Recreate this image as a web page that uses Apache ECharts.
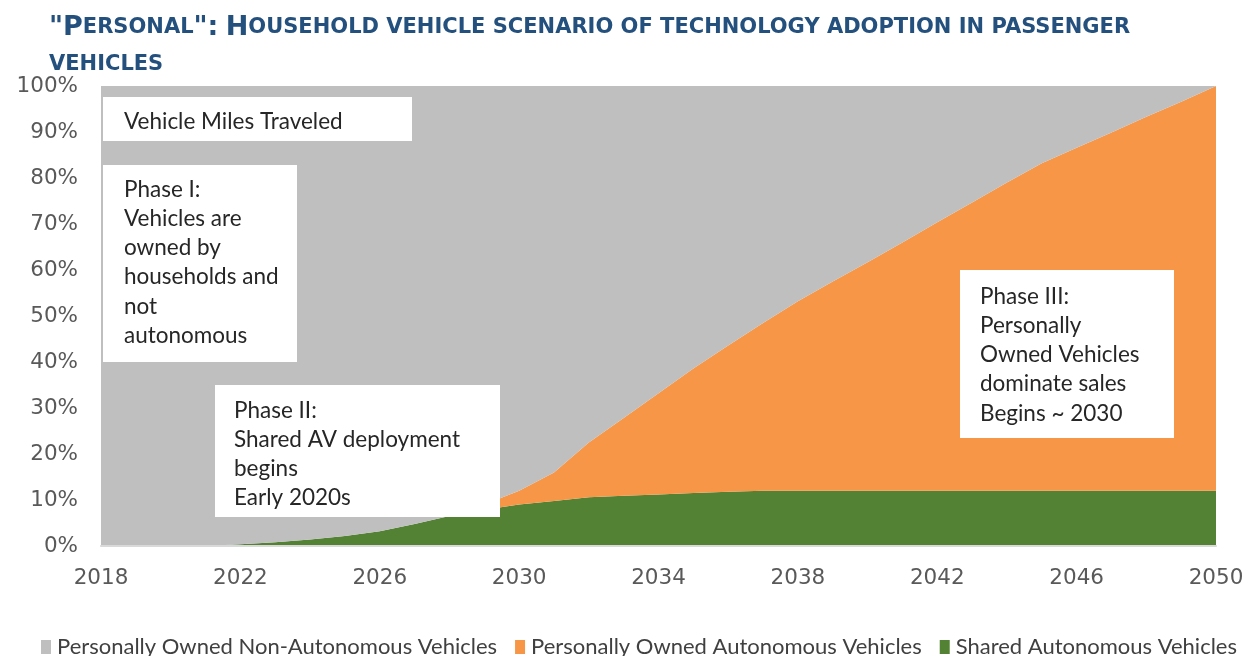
<!DOCTYPE html>
<html>
<head>
<meta charset="utf-8">
<script src="https://cdn.jsdelivr.net/npm/echarts@6/dist/echarts.min.js"></script>
<style>
  html, body { margin: 0; padding: 0; background: #fff; }
  #chart { width: 1256px; height: 656px; }
</style>
</head>
<body>
<div id="chart"></div>
<script>
const years = ['2018', '2019', '2020', '2021', '2022', '2023', '2024', '2025', '2026', '2027', '2028',
  '2029', '2030', '2031', '2032', '2033', '2034', '2035', '2036', '2037', '2038', '2039', '2040',
  '2041', '2042', '2043', '2044', '2045', '2046', '2047', '2048', '2049', '2050']

// shares of vehicle miles traveled, %
const sharedAV = [0, 0, 0, 0, 0.4, 0.8, 1.4, 2.2, 3.2, 4.8, 6.5,
  7.9, 9.0, 9.8, 10.6, 10.9, 11.2, 11.5, 11.8, 12.0, 12.0, 12.0, 12.0,
  12.0, 12.0, 12.0, 12.0, 12.0, 12.0, 12.0, 12.0, 12.0, 12.0]
const ownedAV = [0, 0, 0, 0, 0, 0, 0, 0, 0, 0, 0,
  1.1, 3.0, 6.2, 11.9, 16.9, 22.0, 27.1, 31.8, 36.5, 41.2, 45.5, 49.7,
  54.0, 58.4, 62.7, 67.0, 71.2, 74.6, 77.9, 81.3, 84.6, 88.0]
const ownedNonAV = [100, 100, 100, 100, 99.6, 99.2, 98.6, 97.8, 96.8, 95.2, 93.5,
  91.0, 88.0, 84.0, 77.5, 72.2, 66.8, 61.4, 56.4, 51.5, 46.8, 42.5, 38.3,
  34.0, 29.6, 25.3, 21.0, 16.8, 13.4, 10.1, 6.7, 3.4, 0]

const seriesNames = ['Personally Owned Non-Autonomous Vehicles', 'Personally Owned Autonomous Vehicles', 'Shared Autonomous Vehicles']

const titleText = '"Personal": Household vehicle scenario of technology adoption in passenger\nvehicles'

const notes = [
  { x: 103, y: 97, w: 309, h: 44, tx: 124, ty: 107, lines: ['Vehicle Miles Traveled'] },
  { x: 103, y: 165, w: 194, h: 197, tx: 124, ty: 175, lines: ['Phase I:', 'Vehicles are', 'owned by', 'households and', 'not', 'autonomous'] },
  { x: 215, y: 385, w: 285, h: 132, tx: 234, ty: 396, lines: ['Phase II:', 'Shared AV deployment', 'begins', 'Early 2020s'] },
  { x: 960, y: 270, w: 214, h: 168, tx: 980, ty: 282, lines: ['Phase III:', 'Personally', 'Owned Vehicles', 'dominate sales', 'Begins ~ 2030'] }
]

// fake small caps with rich text
function smallCaps(str) {
  return str.split('\n').map(line => {
    let out = ''
    let cur = null
    let buf = ''
    for (const ch of line) {
      const isSmall = ch >= 'a' && ch <= 'z' || ch === ' '
      const st = isSmall ? 's' : 'b'
      if (st !== cur) {
        if (buf) out += '{' + cur + '|' + buf + '}'
        buf = ''
        cur = st
      }
      buf += isSmall ? ch.toUpperCase() : ch
    }
    if (buf) out += '{' + cur + '|' + buf + '}'
    return out
  }).join('\n')
}

const graphics = []
notes.forEach(n => {
  graphics.push({
    type: 'rect',
    shape: { x: n.x, y: n.y, width: n.w, height: n.h },
    style: { fill: '#ffffff' },
    z: 100
  })
  graphics.push({
    type: 'text',
    x: n.tx,
    y: n.ty,
    style: {
      text: n.lines.join('\n'),
      font: '22.5px Lato',
      lineHeight: 29.2,
      fill: '#262626',
      verticalAlign: 'top'
    },
    z: 101
  })
})

const chart = echarts.init(document.getElementById('chart'))

chart.setOption({
  animation: false,
  title: {
    text: smallCaps(titleText),
    left: 44,
    top: 4,
    textStyle: {
      rich: {
        b: { fontFamily: 'DejaVu Sans', fontWeight: 'bold', fontSize: 27, color: '#24507e', lineHeight: 37 },
        s: { fontFamily: 'DejaVu Sans', fontWeight: 'bold', fontSize: 21, color: '#24507e', lineHeight: 37 }
      }
    }
  },
  grid: {
    left: 101,
    right: 40,
    top: 86,
    bottom: 110
  },
  legend: {
    data: seriesNames,
    left: 36,
    top: 631,
    itemWidth: 10,
    itemHeight: 14,
    itemGap: 18,
    icon: 'rect',
    textStyle: { fontFamily: 'Lato', fontSize: 22, color: '#404040', padding: [0, 0, 0, 1] }
  },
  xAxis: {
    type: 'category',
    data: years,
    boundaryGap: false,
    axisLine: { lineStyle: { color: '#d9d9d9', width: 2 } },
    axisTick: { show: false },
    axisLabel: {
      interval: 3,
      margin: 21,
      fontFamily: 'DejaVu Sans',
      fontSize: 21.5,
      color: '#595959'
    },
    z: 10
  },
  yAxis: {
    type: 'value',
    min: 0,
    max: 100,
    interval: 10,
    axisLine: { show: false },
    axisTick: { show: false },
    splitLine: { show: false },
    axisLabel: {
      formatter: '{value}%',
      margin: 23,
      fontFamily: 'DejaVu Sans',
      fontSize: 21.5,
      color: '#595959'
    }
  },
  series: [{
    name: seriesNames[2],
    type: 'line',
    stack: 'vmt',
    data: sharedAV,
    symbol: 'none',
    lineStyle: { width: 0 },
    areaStyle: { opacity: 1 },
    itemStyle: { color: '#548235' }
  }, {
    name: seriesNames[1],
    type: 'line',
    stack: 'vmt',
    data: ownedAV,
    symbol: 'none',
    lineStyle: { width: 0 },
    areaStyle: { opacity: 1 },
    itemStyle: { color: '#f79646' }
  }, {
    name: seriesNames[0],
    type: 'line',
    stack: 'vmt',
    data: ownedNonAV,
    symbol: 'none',
    lineStyle: { width: 0 },
    areaStyle: { opacity: 1 },
    itemStyle: { color: '#bfbfbf' }
  }],
  graphic: graphics
})
</script>
</body>
</html>
